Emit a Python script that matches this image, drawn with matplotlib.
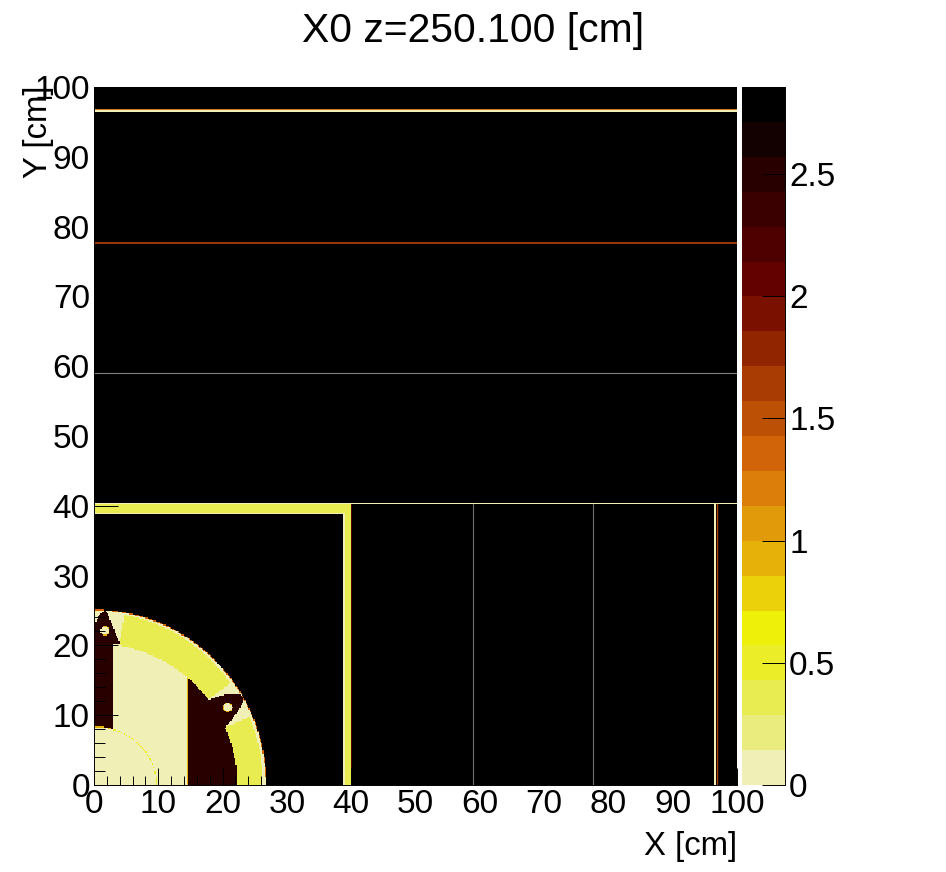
import numpy as np
import matplotlib
matplotlib.use('Agg')
import matplotlib.pyplot as plt
from matplotlib.colors import ListedColormap, BoundaryNorm
from matplotlib.path import Path

plt.rcParams['font.family'] = ['Liberation Sans', 'DejaVu Sans']

# palette bottom to top, 20 equal bands up to z_max
band_colors = ['#F0EFB6', '#EBEC7E', '#E9EC50', '#EAED28', '#EFF00A',
               '#EAD109', '#E6B209', '#E09A0A', '#DB7F0A', '#D16308',
               '#BC5004', '#A83C02', '#902500', '#7A1000', '#630000',
               '#4E0000', '#3A0000', '#280000', '#130000', '#000000']
z_max = 2.855
cbar_ticks = [0, 0.5, 1, 1.5, 2, 2.5]
cbar_labels = ['0', '0.5', '1', '1.5', '2', '2.5']

# band index per material
PALE, YELLOW, EDGE, ORANGE, RUST, DARK, BLACK = 0, 2, 6, 9, 11, 17, 19

# ellipse half axes, cm
outer_ell = (26.85, 25.15)
ring_ell = (26.3, 24.8)
mid_ell = (22.3, 20.3)
core_ell = (9.7, 8.3)

# angles of the yellow sectors, degrees
sector_hi = (34.5, 79.0)
sector_lo = (0.0, 22.0)

# rib outlines, cm
left_rib_x = [0.0, 0.15, 0.41, 0.67, 1.19, 1.71, 2.23, 2.49, 2.9, 3.26, 3.63, 4.04, 3.05, 3.05, 0.0]
left_rib_y = [8.1, 22.9, 23.6, 24.1, 24.7, 24.93, 24.36, 23.64, 22.9, 21.97, 21.2, 20.16, 20.16, 8.1, 8.1]
right_rib_x = [18.04, 20.1, 21.93, 22.8, 23.3, 23.2, 22.7, 21.93, 20.37, 18.0]
right_rib_y = [12.27, 12.9, 13.1, 12.95, 12.5, 12.0, 11.0, 10.0, 8.12, 8.0]
holes = [(1.71, 22.1), (20.78, 11.13)]
hole_r = (0.66, 0.6)
gap_x = 14.4

# frame
frame_outer = 40.05
frame_inner = 39.05
top_line_y = 40.3
right_line_x = [96.5, 96.7]
far_line_y = [96.5, 96.7]
rust_line_y = 77.65
rust_x = 96.85
rust_y = 96.85
grey_x = [58.9, 77.6]
grey_y = [59.0]

n_bins = 500
edges = np.linspace(0, 100, n_bins + 1)
centres = 0.5 * (edges[1:] + edges[:-1])
X, Y = np.meshgrid(centres, centres)
step = edges[1] - edges[0]


def inside(ell):
    return (X / ell[0])**2 + (Y / ell[1])**2 <= 1


def in_poly(xs, ys):
    pts = np.column_stack([X.ravel(), Y.ravel()])
    return Path(np.column_stack([xs, ys])).contains_points(pts).reshape(X.shape)


def one_bin(C, c):
    return np.abs(C - c) < step / 2 - 1e-6


angle = np.degrees(np.arctan2(Y, X))
idx = np.full(X.shape, BLACK)

# calorimeter section
idx[inside(outer_ell)] = ORANGE
idx[inside((outer_ell[0] - 0.12, outer_ell[1] - 0.12))] = PALE
yellow = inside(ring_ell) & ~inside(mid_ell) & (
    ((angle >= sector_hi[0]) & (angle <= sector_hi[1])) |
    ((angle >= sector_lo[0]) & (angle <= sector_lo[1])))
idx[yellow] = YELLOW
idx[inside(mid_ell) & (X >= gap_x)] = DARK
idx[(X >= gap_x) & (X < gap_x + step) & inside(mid_ell)] = EDGE
idx[in_poly(right_rib_x, right_rib_y)] = DARK
idx[in_poly(left_rib_x, left_rib_y)] = DARK
for cx, cy in holes:
    d = ((X - cx) / hole_r[0])**2 + ((Y - cy) / hole_r[1])**2
    idx[d <= 1.25] = EDGE
    idx[d <= 1] = PALE
idx[inside(core_ell)] = PALE
core_line = inside((core_ell[0] + 0.1, core_ell[1] + 0.1)) & ~inside(core_ell)
idx[core_line] = YELLOW + 1
idx[core_line & (X < left_rib_x[-2])] = EDGE

# frame around the section
idx[(X <= frame_outer) & (Y <= frame_outer + 0.15) &
    ((X >= frame_inner) | (Y >= frame_inner))] = YELLOW
idx[(X >= frame_inner - step) & (X < frame_inner) & (Y < frame_inner)] = PALE
idx[(Y >= frame_inner - step) & (Y < frame_inner) & (X < frame_inner)] = PALE
idx[(X > frame_outer) & (X <= frame_outer + step) & (Y < top_line_y)] = 15
idx[one_bin(Y, top_line_y)] = PALE
for rx in right_line_x:
    idx[one_bin(X, rx) & (Y < top_line_y)] = PALE
for fy in far_line_y:
    idx[one_bin(Y, fy)] = PALE

levels = np.linspace(0, z_max, len(band_colors) + 1)
z = 0.5 * (levels[idx] + levels[idx + 1])
cmap = ListedColormap(band_colors)
norm = BoundaryNorm(levels, cmap.N)

W, H = 946, 872
fig = plt.figure(figsize=(W / 100, H / 100), dpi=100)
ax = fig.add_axes([94 / W, 1 - 785 / H, (737 - 94) / W, (785 - 87) / H])
mesh = ax.pcolormesh(edges, edges, z, cmap=cmap, norm=norm, antialiased=False, rasterized=True)
for gx in grey_x:
    ax.plot([gx, gx], [0, top_line_y], color='#707070', lw=0.8)
for gy in grey_y:
    ax.plot([0, 100], [gy, gy], color='#808080', lw=0.8)
ax.plot([rust_x, rust_x], [0, top_line_y], color=band_colors[RUST], lw=1.0)
ax.plot([0, 100], [rust_y, rust_y], color=band_colors[ORANGE], lw=0.6)
ax.plot([0, 100], [rust_line_y, rust_line_y], color=band_colors[RUST], lw=1.3)

ax.set_xlim(0, 100)
ax.set_ylim(0, 100)
ax.set_xticks(np.arange(0, 101, 10))
ax.set_yticks(np.arange(0, 101, 10))
ax.set_xticks(np.arange(0, 101, 2), minor=True)
ax.set_yticks(np.arange(0, 101, 2), minor=True)
ax.tick_params(axis='x', which='major', direction='in', length=12.2, width=0.7, labelsize=24, pad=3)
ax.tick_params(axis='x', which='minor', direction='in', length=6.5, width=0.7)
ax.tick_params(axis='y', which='major', direction='in', length=17, width=0.7, labelsize=24, pad=3)
ax.tick_params(axis='y', which='minor', direction='in', length=8, width=0.7)
ax.spines['top'].set_visible(False)
ax.spines['right'].set_visible(False)
for s in ['left', 'bottom']:
    ax.spines[s].set_linewidth(0.7)
ax.set_axisbelow(False)

cax = fig.add_axes([742 / W, 1 - 785 / H, (785 - 742) / W, (785 - 87) / H])
cb = fig.colorbar(mesh, cax=cax, ticks=cbar_ticks, spacing='proportional')
cb.outline.set_visible(False)
cb.ax.set_yticklabels(cbar_labels)
cb.ax.minorticks_off()
cb.ax.tick_params(direction='in', length=16.5, width=0.7, labelsize=24, pad=3)
cb.ax.spines['right'].set_visible(True)
cb.ax.spines['right'].set_linewidth(0.7)

fig.text(473 / W, 1 - 31 / H, 'X0 z=250.100 [cm]', fontsize=29.4, ha='center', va='center')
fig.text(737.5 / W, 1 - 846 / H, 'X [cm]', fontsize=23.7, ha='right', va='center')
fig.text(39 / W, 1 - 85 / H, 'Y [cm]', fontsize=23.7, rotation=90, ha='center', va='top')

fig.savefig('out.png', dpi=100)
